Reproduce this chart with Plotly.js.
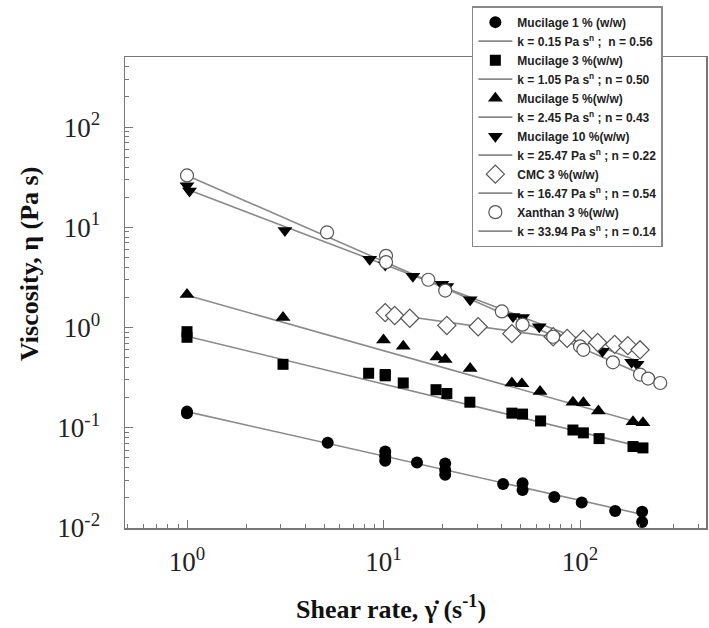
<!DOCTYPE html>
<html>
<head>
<meta charset="utf-8">
<script src="https://cdn.plot.ly/plotly-3.0.1.min.js"></script>
<style>html,body{margin:0;padding:0;background:#fff;}#chart{width:709px;height:628px;}</style>
</head>
<body>
<div id="chart"></div>
<script>
// ---- data ----
const seriesNames = ["Mucilage 1 % (w/w)", "Mucilage 3 %(w/w)", "Mucilage 5 %(w/w)", "Mucilage 10 %(w/w)", "CMC 3 %(w/w)", "Xanthan 3 %(w/w)"];
const fitNames = [
  "k = 0.15 Pa s<sup>n</sup> ;  n = 0.56",
  "k = 1.05 Pa s<sup>n</sup> ; n = 0.50",
  "k = 2.45 Pa s<sup>n</sup> ; n = 0.43",
  "k = 25.47 Pa s<sup>n</sup> ; n = 0.22",
  "k = 16.47 Pa s<sup>n</sup> ; n = 0.54",
  "k = 33.94 Pa s<sup>n</sup> ; n = 0.14"
];

const m1X = [1, 1, 5.2, 10.2, 10.2, 10.2, 14.8, 20.6, 20.6, 20.6, 40.6, 51, 51, 74, 102, 151, 207, 207];
const m1Y = [0.145, 0.14, 0.071, 0.058, 0.052, 0.047, 0.045, 0.044, 0.038, 0.034, 0.0275, 0.028, 0.024, 0.0204, 0.018, 0.0148, 0.0145, 0.0115];

const m3X = [1, 1, 3.08, 8.4, 10.2, 10.2, 12.6, 18.5, 21, 27.5, 45, 51, 63, 92, 104, 125, 186, 209];
const m3Y = [0.91, 0.80, 0.43, 0.35, 0.34, 0.33, 0.28, 0.24, 0.22, 0.18, 0.14, 0.137, 0.117, 0.095, 0.089, 0.078, 0.065, 0.063];

const m5X = [1, 3.08, 10, 12.6, 18.7, 20.6, 27.6, 45, 50.6, 62.6, 92, 104, 124, 186, 209];
const m5Y = [2.14, 1.26, 0.75, 0.65, 0.51, 0.48, 0.39, 0.28, 0.275, 0.23, 0.18, 0.178, 0.147, 0.115, 0.112];

const m10X = [1, 1.03, 3.15, 8.5, 10.2, 14.1, 19.8, 21, 27.6, 45.6, 51, 62, 100, 130, 183, 195];
const m10Y = [26, 23, 9.3, 4.8, 4.2, 3.25, 2.7, 2.57, 1.9, 1.29, 1.26, 1.02, 0.72, 0.58, 0.45, 0.43];

const cmcX = [10.2, 11.4, 13.6, 21, 30.3, 45, 73, 86, 104, 123, 150, 175, 202];
const cmcY = [1.41, 1.32, 1.24, 1.05, 1.02, 0.87, 0.81, 0.78, 0.76, 0.71, 0.68, 0.66, 0.60];

const xanX = [1, 5.16, 10.3, 10.3, 16.9, 20.6, 40, 51, 73, 100, 104, 147, 202, 222, 256];
const xanY = [33, 8.9, 5.2, 4.5, 3.0, 2.34, 1.45, 1.07, 0.81, 0.65, 0.60, 0.45, 0.34, 0.31, 0.28];

// fitted power-law lines (end points)
const fitX = [[1, 213], [1, 215], [1, 215], [1, 210], [10.2, 205], [1, 260]];
const fitY = [[0.145, 0.0135], [0.82, 0.063], [2.1, 0.108], [24, 0.44], [1.38, 0.61], [33, 0.28]];

const xTickVals = [1, 10, 100];
const xTickText = ["10<sup>0</sup>", "10<sup>1</sup>", "10<sup>2</sup>"];
const yTickVals = [0.01, 0.1, 1, 10, 100];
const yTickText = ["10<sup>-2</sup>", "10<sup>-1</sup>", "10<sup>0</sup>", "10<sup>1</sup>", "10<sup>2</sup>"];

// ---- styles ----
const dataX = [m1X, m3X, m5X, m10X, cmcX, xanX];
const dataY = [m1Y, m3Y, m5Y, m10Y, cmcY, xanY];
const markerStyles = [
  {symbol: "circle", size: 12, color: "#000", line: {width: 0}},
  {symbol: "square", size: 11, color: "#000", line: {width: 0}},
  {symbol: "triangle-up", size: 13, color: "#000", line: {width: 0}},
  {symbol: "triangle-down", size: 13, color: "#000", line: {width: 0}},
  {symbol: "diamond", size: 14, color: "#fff", line: {width: 1.2, color: "#555"}},
  {symbol: "circle", size: 13, color: "#fff", line: {width: 1.2, color: "#555"}}
];

const traces = [];
for (let i = 0; i < seriesNames.length; i++) {
  traces.push({
    x: dataX[i], y: dataY[i], type: "scatter", mode: "markers",
    name: seriesNames[i], marker: markerStyles[i]
  });
  traces.push({
    x: fitX[i], y: fitY[i], type: "scatter", mode: "lines",
    name: fitNames[i], line: {color: "#8a8a8a", width: 1.6}
  });
}
traces.forEach((t, idx) => { t.legendrank = idx + 1; });
const ordered = traces.filter(t => t.mode === "lines").concat(traces.filter(t => t.mode === "markers"));

const axisCommon = {
  type: "log", showline: true, linecolor: "#777", linewidth: 1.5, mirror: true,
  ticks: "inside", ticklen: 8, tickwidth: 1, tickcolor: "#777",
  showgrid: false, zeroline: false, tickmode: "array",
  tickfont: {family: "Liberation Serif, Times New Roman, serif", size: 27, color: "#222"},
  minor: {ticks: "inside", ticklen: 4, tickwidth: 1, tickcolor: "#777", dtick: "D1", showgrid: false}
};

const layout = {
  width: 709, height: 628,
  margin: {l: 125, r: 3, t: 57, b: 100},
  paper_bgcolor: "#fff", plot_bgcolor: "#fff",
  showlegend: true,
  xaxis: Object.assign({}, axisCommon, {
    range: [-0.3155, 2.641], tickvals: xTickVals, ticktext: xTickText, ticklabelstandoff: 9
  }),
  yaxis: Object.assign({}, axisCommon, {
    range: [-2, 2.7], tickvals: yTickVals, ticktext: yTickText, ticklabelstandoff: 18
  }),
  legend: {
    x: 0.597, y: 1.108, xanchor: "left", yanchor: "top",
    bgcolor: "#fff", bordercolor: "#888", borderwidth: 1.5,
    font: {family: "Arial, Liberation Sans, sans-serif", size: 12, color: "#222", weight: "bold"},
    traceorder: "normal", itemwidth: 34, tracegroupgap: 0
  },
  annotations: [
    {text: "<b>Shear rate, γ̇ (s<sup>-1</sup>)</b>", xref: "paper", yref: "paper",
     x: (391 - 125) / 581, y: -(607 - 528) / 471, xanchor: "center", yanchor: "middle", showarrow: false,
     font: {family: "Liberation Serif, Times New Roman, serif", size: 26, color: "#111"}},
    {text: "<b>Viscosity, η (Pa s)</b>", xref: "paper", yref: "paper", textangle: -90,
     x: -(125 - 29) / 581, y: (528 - 264) / 471, xanchor: "center", yanchor: "middle", showarrow: false,
     font: {family: "Liberation Serif, Times New Roman, serif", size: 26, color: "#111"}}
  ]
};

Plotly.newPlot("chart", ordered, layout, {displayModeBar: false, staticPlot: true});
</script>
</body>
</html>
